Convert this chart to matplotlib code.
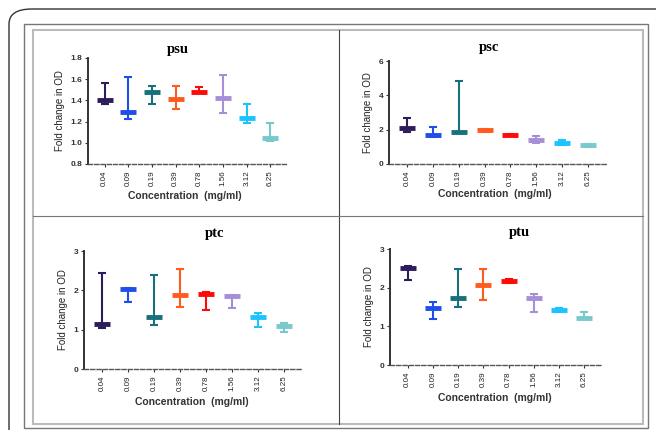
import numpy as np
import matplotlib
matplotlib.use("Agg")
import matplotlib.pyplot as plt
from matplotlib.patches import FancyBboxPatch, Rectangle
from matplotlib.lines import Line2D

concs = ["0.04", "0.09", "0.19", "0.39", "0.78", "1.56", "3.12", "6.25"]
colors = ["#2d1b5c", "#1f4fe6", "#17707c", "#ff5b1f", "#ff0a0a",
          "#a68fd8", "#1cc4ff", "#79c8cc"]

# median / min / max
psu_med = [1.40, 1.29, 1.48, 1.41, 1.48, 1.42, 1.23, 1.05]
psu_min = [1.37, 1.22, 1.37, 1.32, 1.47, 1.28, 1.19, 1.02]
psu_max = [1.56, 1.62, 1.54, 1.54, 1.53, 1.64, 1.37, 1.19]

psc_med = [2.08, 1.67, 1.88, 1.98, 1.71, 1.42, 1.24, 1.11]
psc_min = [1.88, 1.57, 1.86, 1.84, 1.67, 1.24, 1.13, 1.01]
psc_max = [2.70, 2.16, 4.82, 2.04, 1.75, 1.63, 1.42, 1.18]

ptc_med = [1.14, 2.04, 1.33, 1.88, 1.90, 1.85, 1.33, 1.09]
ptc_min = [1.05, 1.71, 1.12, 1.58, 1.50, 1.56, 1.07, 0.93]
ptc_max = [2.45, 2.07, 2.40, 2.54, 1.95, 1.87, 1.42, 1.18]

ptu_med = [2.51, 1.47, 1.73, 2.07, 2.16, 1.73, 1.43, 1.21]
ptu_min = [2.19, 1.18, 1.49, 1.69, 2.12, 1.38, 1.37, 1.19]
ptu_max = [2.56, 1.62, 2.49, 2.49, 2.22, 1.83, 1.48, 1.38]

W, H = 656, 430
fig = plt.figure(figsize=(W / 100, H / 100), dpi=100)


def fx(px):
    return px / W


def fy(py):
    return 1 - py / H


# page frame
fig.patches.append(FancyBboxPatch((fx(9), fy(460)), fx(700), fy(9) - fy(460),
                                  boxstyle="round,pad=0,rounding_size=0.035",
                                  transform=fig.transFigure, fill=False,
                                  ec="#333333", lw=1.0))
fig.patches.append(Rectangle((fx(24), fy(428)), fx(624), fy(24) - fy(428),
                             transform=fig.transFigure, fill=False,
                             ec="#777777", lw=1.0))
fig.patches.append(Rectangle((fx(33), fy(424)), fx(610), fy(30) - fy(424),
                             transform=fig.transFigure, fill=False,
                             ec="#bbbbbb", lw=1.5))
fig.lines.append(Line2D([fx(339), fx(339)], [fy(30), fy(424)],
                        transform=fig.transFigure, color="#444444", lw=0.8))
fig.lines.append(Line2D([fx(33), fx(643)], [fy(216), fy(216)],
                        transform=fig.transFigure, color="#777777", lw=0.8))

# name, axes box (px), ylim, yticks, fmt, data, title pos, xlabel pos
panels = [
    ("psu", (88, 287, 58, 164), (0.8, 1.8), [0.8, 1.0, 1.2, 1.4, 1.6, 1.8],
     "{:.1f}", psu_med, psu_min, psu_max, (178, 50), (185, 196)),
    ("psc", (389, 606, 61, 164), (0, 6), [0, 2, 4, 6],
     "{:.0f}", psc_med, psc_min, psc_max, (489, 48), (495, 194)),
    ("ptc", (84, 302, 251, 369), (0, 3), [0, 1, 2, 3],
     "{:.0f}", ptc_med, ptc_min, ptc_max, (215, 233), (192, 402)),
    ("ptu", (390, 602, 249, 365), (0, 3), [0, 1, 2, 3],
     "{:.0f}", ptu_med, ptu_min, ptu_max, (519, 232), (495, 398)),
]

for name, (l, r, t, b), ylim, yticks, fmt, med, lo, hi, tpos, xpos in panels:
    ax = fig.add_axes([fx(l), fy(b), fx(r - l), fy(t) - fy(b)])
    x = np.arange(len(concs))
    med = np.array(med)
    lo = np.array(lo)
    hi = np.array(hi)
    for i in x:
        ax.errorbar([i], [med[i]], yerr=[[med[i] - lo[i]], [hi[i] - med[i]]],
                    fmt="none", ecolor=colors[i], elinewidth=1.5,
                    capsize=3.2, capthick=1.5, zorder=3)
        ax.plot([i], [med[i]], marker="_", ms=11.5, mew=3.5,
                color=colors[i], zorder=4)
    ax.set_xlim(-0.7, 7.7)
    ax.set_ylim(*ylim)
    ax.set_yticks(yticks)
    ax.set_yticklabels([fmt.format(v) for v in yticks], fontsize=6,
                       fontweight="bold", color="#333333",
                       family="Liberation Sans")
    ax.set_xticks(x)
    ax.set_xticklabels(concs, rotation=90, fontsize=5.8, color="#222222",
                       family="Liberation Sans")
    ax.tick_params(axis="both", length=2.5, width=0.8, color="#333333", pad=1.5)
    ax.tick_params(axis="x", pad=2)
    for s in ["top", "right"]:
        ax.spines[s].set_visible(False)
    ax.spines["left"].set_color("#333333")
    ax.spines["left"].set_linewidth(1.4)
    ax.spines["bottom"].set_color("#555555")
    ax.spines["bottom"].set_linewidth(1.0)
    ax.spines["bottom"].set_linestyle((0, (3, 1.5)))
    ax.set_facecolor("none")
    ax.set_ylabel("Fold change in OD", fontsize=7, color="#222222",
                  family="Liberation Sans", labelpad=4)
    fig.text(fx(tpos[0]), fy(tpos[1]), name, ha="center", va="center",
             fontsize=10.5, fontweight="bold", family="Liberation Serif")
    fig.text(fx(xpos[0]), fy(xpos[1]), "Concentration  (mg/ml)",
             ha="center", va="center", fontsize=7.5, fontweight="bold",
             color="#333333", family="Liberation Sans")

fig.savefig("out.png", dpi=100)
